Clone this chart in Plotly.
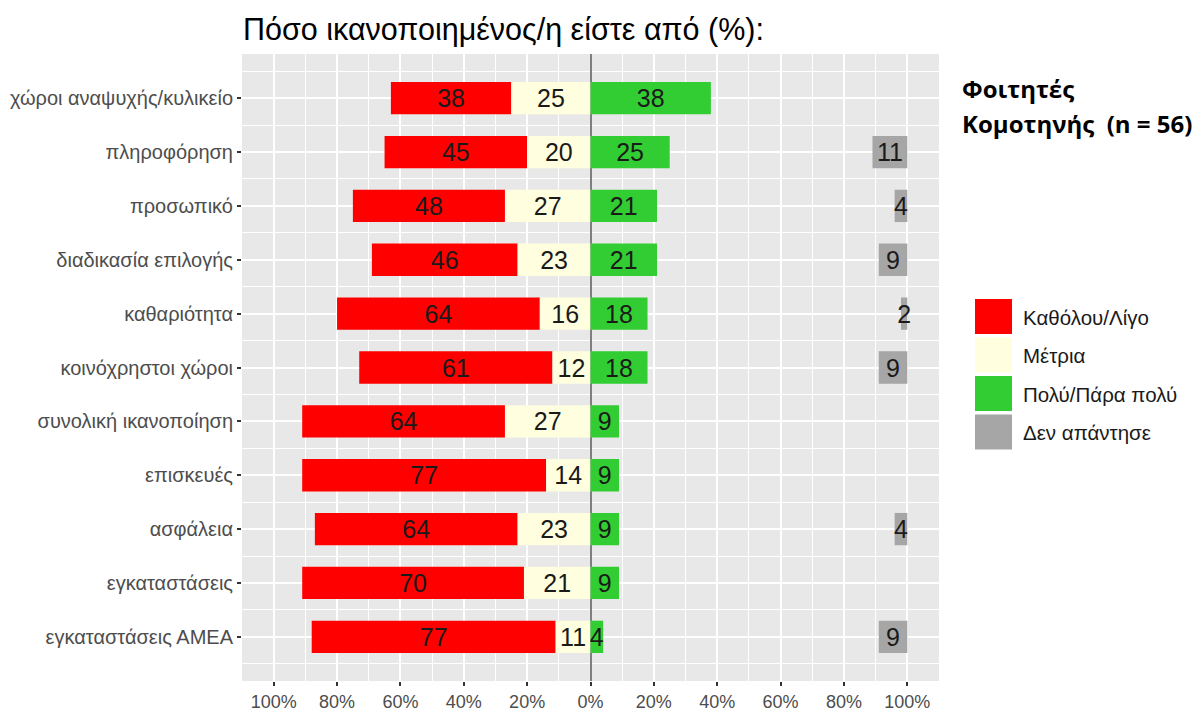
import plotly.graph_objects as go

categories = [
    "χώροι αναψυχής/κυλικείο",
    "πληροφόρηση",
    "προσωπικό",
    "διαδικασία επιλογής",
    "καθαριότητα",
    "κοινόχρηστοι χώροι",
    "συνολική ικανοποίηση",
    "επισκευές",
    "ασφάλεια",
    "εγκαταστάσεις",
    "εγκαταστάσεις ΑΜΕΑ",
]
low_vals = [38, 45, 48, 46, 64, 61, 64, 77, 64, 70, 77]      # Καθόλου/Λίγο
mid_vals = [25, 20, 27, 23, 16, 12, 27, 14, 23, 21, 11]      # Μέτρια
high_vals = [38, 25, 21, 21, 18, 18, 9, 9, 9, 9, 4]          # Πολύ/Πάρα πολύ
na_vals = [0, 11, 4, 9, 2, 9, 0, 0, 4, 0, 9]                 # Δεν απάντησε

series_names = ["Καθόλου/Λίγο", "Μέτρια", "Πολύ/Πάρα πολύ", "Δεν απάντησε"]
series_colors = ["#FF0000", "#FFFFE0", "#32CD32", "#A6A6A6"]

x_tickvals = [-100, -80, -60, -40, -20, 0, 20, 40, 60, 80, 100]
x_ticktext = ["100%", "80%", "60%", "40%", "20%", "0%", "20%", "40%", "60%", "80%", "100%"]

title_text = "Πόσο ικανοποιημένος/η είστε από (%):"
note_lines = ["Φοιτητές", "Κομοτηνής\u00a0 (n = 56)"]

FONT = "Liberation Sans"
ypos = list(range(len(categories)))


def labels(vals):
    return [str(v) if v > 0 else "" for v in vals]


fig = go.Figure()
common = dict(orientation="h", y=ypos, width=0.6, textposition="inside",
              insidetextanchor="middle", textangle=0, constraintext="none",
              textfont=dict(size=25, color="#1a1a1a", family=FONT),
              showlegend=False, hoverinfo="skip", marker_line_width=0)

fig.add_trace(go.Bar(x=low_vals, base=[-(a + b) for a, b in zip(low_vals, mid_vals)],
                     marker_color=series_colors[0], text=labels(low_vals), name=series_names[0], **common))
fig.add_trace(go.Bar(x=mid_vals, base=[-b for b in mid_vals],
                     marker_color=series_colors[1], text=labels(mid_vals), name=series_names[1], **common))
fig.add_trace(go.Bar(x=high_vals, base=[0] * len(high_vals),
                     marker_color=series_colors[2], text=labels(high_vals), name=series_names[2], **common))
fig.add_trace(go.Bar(x=na_vals, base=[100 - v for v in na_vals],
                     marker_color=series_colors[3], text=labels(na_vals), name=series_names[3], **common))

# pixel geometry of plot area
L, R, T, B = 242, 939, 54, 681
W, H = R - L, B - T


def xp(px):
    return (px - L) / W


def yp(py):
    return (B - py) / H


shapes = []
annotations = []
for i, (nm, col) in enumerate(zip(series_names, series_colors)):
    top = 299 + i * 38.5
    shapes.append(dict(type="rect", xref="paper", yref="paper",
                       x0=xp(975), x1=xp(1012), y0=yp(top + 35), y1=yp(top),
                       fillcolor=col, line=dict(width=0), layer="above"))
    annotations.append(dict(text=nm, xref="paper", yref="paper", x=xp(1021), y=yp(top + 18),
                            xanchor="left", yanchor="middle", showarrow=False,
                            font=dict(size=20.5, color="#1a1a1a", family=FONT)))

for j, line in enumerate(note_lines):
    annotations.append(dict(text="<b>" + line + "</b>", xref="paper", yref="paper",
                            x=xp(960), y=yp(88 + j * 36), xanchor="left", yanchor="middle",
                            showarrow=False, font=dict(size=24, color="black", family="Open Sans")))

fig.update_layout(
    width=1201, height=711,
    margin=dict(l=L, r=1201 - R, t=T, b=711 - B, pad=0, autoexpand=False),
    paper_bgcolor="white",
    plot_bgcolor="#E8E8E8",
    barmode="overlay",
    uniformtext=dict(mode="show", minsize=25),
    font=dict(family=FONT),
    title=dict(text=title_text, x=xp(243), xref="paper", xanchor="left",
               y=1 - 29 / 711, yref="container", yanchor="middle", automargin=False,
               font=dict(size=30.5, color="black", family=FONT)),
    shapes=shapes,
    annotations=annotations,
    xaxis=dict(range=[-110, 110], tickvals=x_tickvals, ticktext=x_ticktext, automargin=False,
               showgrid=True, gridcolor="white", gridwidth=1.6,
               minor=dict(dtick=10, tick0=0, showgrid=True, gridcolor="white", gridwidth=0.8),
               zeroline=True, zerolinecolor="#7F7F7F", zerolinewidth=1.5,
               ticks="outside", ticklen=4, tickwidth=1.5, tickcolor="#333333",
               tickfont=dict(size=18, color="#4D4D4D", family=FONT),
               showline=False, fixedrange=True),
    yaxis=dict(range=[len(categories) - 1 + 0.82, -0.82], tickvals=ypos, ticktext=categories,
               automargin=False,
               showgrid=True, gridcolor="white", gridwidth=1.6,
               minor=dict(dtick=1, tick0=0.5, showgrid=True, gridcolor="white", gridwidth=0.8),
               zeroline=False,
               ticks="outside", ticklen=4, tickwidth=1.5, tickcolor="#333333",
               tickfont=dict(size=20, color="#4D4D4D", family=FONT),
               showline=False, fixedrange=True),
)

fig.write_html("out.html", config={"displayModeBar": False},
               post_script="document.body.style.margin='0';document.body.style.overflow='hidden';")
